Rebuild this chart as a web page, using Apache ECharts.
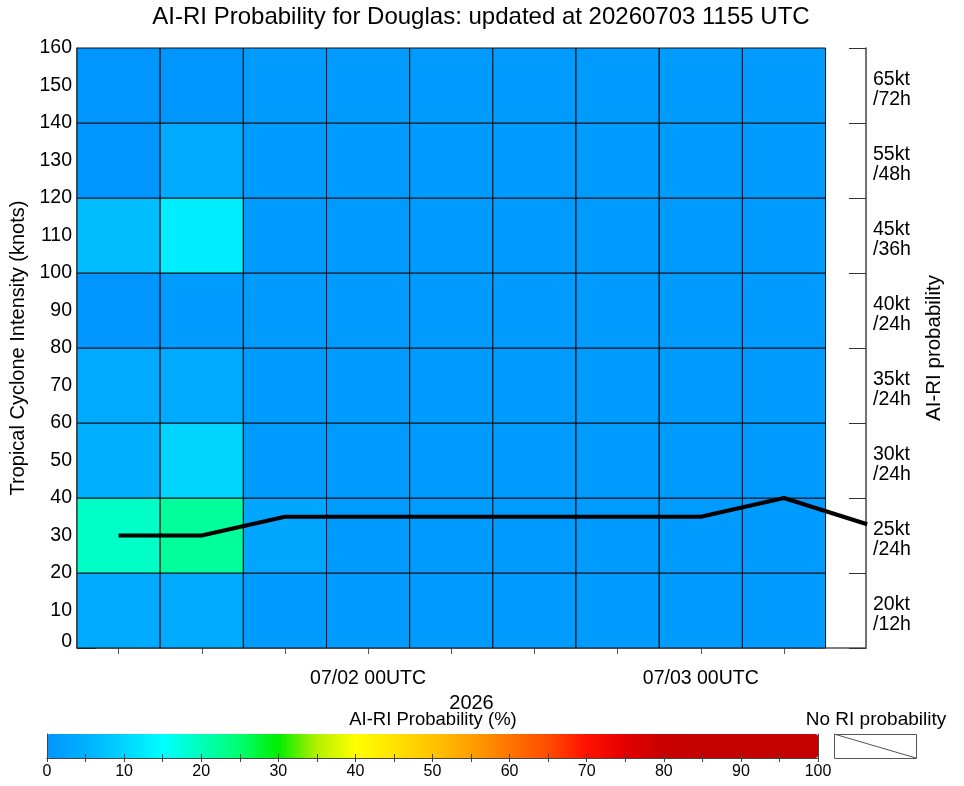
<!DOCTYPE html>
<html>
<head>
<meta charset="utf-8">
<script src="https://cdn.jsdelivr.net/npm/echarts@6/dist/echarts.min.js"></script>
<style>
html,body{margin:0;padding:0;background:#fff;}
#chart{width:964px;height:786px;}
</style>
</head>
<body>
<div id="chart"></div>
<script>
// ---- data (hours since 2026-07-01 00 UTC) ----
const cellCenterHours = [6, 12, 18, 24, 30, 36, 42, 48, 54];
const cellHalfWidthHours = 3;
const rowEdges = [0, 20, 40, 60, 80, 100, 120, 140, 160];
const riLabels = ['20kt\n/12h', '25kt\n/24h', '30kt\n/24h', '35kt\n/24h',
                  '40kt\n/24h', '45kt\n/36h', '55kt\n/48h', '65kt\n/72h'];
// probability (%) per RI row (bottom to top), per 6-hourly time
const prob20kt12h = [4, 4, 1, 1, 1, 1, 1, 1, 1];
const prob25kt24h = [19, 22, 3, 1, 1, 1, 1, 1, 1];
const prob30kt24h = [5, 10, 1, 1, 1, 1, 1, 1, 1];
const prob35kt24h = [4, 4, 1, 1, 1, 1, 1, 1, 1];
const prob40kt24h = [0, 1, 1, 1, 1, 1, 1, 1, 1];
const prob45kt36h = [7, 13, 1, 1, 1, 1, 1, 1, 1];
const prob55kt48h = [0, 4, 1, 1, 1, 1, 1, 1, 1];
const prob65kt72h = [0, 0, 1, 1, 1, 1, 1, 1, 1];
const probRows = [prob20kt12h, prob25kt24h, prob30kt24h, prob35kt24h,
                  prob40kt24h, prob45kt36h, prob55kt48h, prob65kt72h];
// intensity track
const trackHours = [6, 12, 18, 24, 30, 36, 42, 48, 54, 60];
const trackKnots = [30, 30, 35, 35, 35, 35, 35, 35, 40, 33];
// axis ticks / labels
const xTickHours = [6, 12, 18, 24, 30, 36, 42, 48, 54];
const xLabelHours = [24, 48];
const xLabelTexts = ['07/02 00UTC', '07/03 00UTC'];
const xMinHours = 3;
const xMaxHours = 59.917; // 07/03 11:55 UTC
// colour scale 0..100 % (every 5 %)
const cbColors = ['#0096ff', '#00b0ff', '#00d4ff', '#00ffff', '#00ffb8', '#00ff70',
                  '#00ee00', '#b4f000', '#ffff00', '#ffe200', '#ffc400', '#ffa000',
                  '#ff7400', '#ff4c00', '#ff1000', '#e40000', '#c80000', '#c40000',
                  '#c40000', '#c40000', '#c40000'];

// ---- build ----
const cells = [];
probRows.forEach((row, i) => {
  row.forEach((p, j) => {
    cells.push([cellCenterHours[j] - cellHalfWidthHours, cellCenterHours[j] + cellHalfWidthHours,
                rowEdges[i], rowEdges[i + 1], p]);
  });
});
// RI labels sit slightly below each row centre, as in the original
const riLabelValues = rowEdges.slice(0, -1).map((e, i) => (e + rowEdges[i + 1]) / 2 - 1.1);
const track = trackHours.map((h, i) => [h, trackKnots[i]]);

const FONT = 'Liberation Sans, Arial, Helvetica, sans-serif';
const chart = echarts.init(document.getElementById('chart'), null, {renderer: 'canvas'});
chart.setOption({
  animation: false,
  backgroundColor: '#ffffff',
  textStyle: {fontFamily: FONT, color: '#000'},
  title: [
    {text: 'AI-RI Probability for Douglas: updated at 20260703 1155 UTC', left: 481, top: 5, padding: 0,
     textAlign: 'center', textStyle: {fontFamily: FONT, fontSize: 24, fontWeight: 'normal', color: '#000'}},
    {text: 'AI-RI Probability (%)', left: 433, top: 710, padding: 0, textAlign: 'center',
     textStyle: {fontFamily: FONT, fontSize: 18.5, fontWeight: 'normal', color: '#000'}},
    {text: 'No RI probability', left: 876, top: 710, padding: 0, textAlign: 'center',
     textStyle: {fontFamily: FONT, fontSize: 19, fontWeight: 'normal', color: '#000'}}
  ],
  grid: [
    {left: 77, right: 98, top: 48, bottom: 138, outerBoundsMode: 'none'},
    {left: 47, top: 734, width: 771, height: 24, outerBoundsMode: 'none'}
  ],
  xAxis: [
    {type: 'value', gridIndex: 0, min: xMinHours, max: xMaxHours,
     name: '2026', nameLocation: 'middle', nameGap: 42,
     nameTextStyle: {fontFamily: FONT, fontSize: 20, color: '#000'},
     axisLine: {show: true, lineStyle: {color: '#555', width: 1.5}},
     axisTick: {show: true, inside: false, length: 6, customValues: xTickHours, lineStyle: {color: '#555'}},
     axisLabel: {show: true, customValues: xLabelHours, margin: 21, fontFamily: FONT, fontSize: 19.5, color: '#000',
       formatter: v => { const k = xLabelHours.indexOf(v); return k >= 0 ? xLabelTexts[k] : ''; }},
     splitLine: {show: false}},
    {type: 'value', gridIndex: 1, min: 0, max: 100, interval: 5, position: 'bottom', z: 10,
     axisLine: {show: true, lineStyle: {color: '#444', width: 1}},
     axisTick: {show: true, inside: true, length: 4, lineStyle: {color: '#444'}},
     axisLabel: {show: true, margin: 6, fontFamily: FONT, fontSize: 16, color: '#000',
       formatter: v => (v % 10 === 0 ? String(v) : '')},
     splitLine: {show: false}},
    {type: 'value', gridIndex: 1, min: 0, max: 100, interval: 5, position: 'top', z: 10,
     axisLine: {show: true, lineStyle: {color: '#444', width: 1}},
     axisTick: {show: true, inside: true, length: 4, lineStyle: {color: '#444'}},
     axisLabel: {show: false}, splitLine: {show: false}}
  ],
  yAxis: [
    {type: 'value', gridIndex: 0, min: 0, max: 160, interval: 10, position: 'left',
     name: 'Tropical Cyclone Intensity (knots)', nameLocation: 'middle', nameGap: 49, nameRotate: 90,
     nameTextStyle: {fontFamily: FONT, fontSize: 20, color: '#000'},
     axisLine: {show: true, lineStyle: {color: '#555', width: 1.5}},
     axisTick: {show: true, inside: true, length: 19, lineStyle: {color: '#333'}},
     axisLabel: {margin: 5, fontFamily: FONT, fontSize: 19.5, color: '#000',
       formatter: v => (v === 0 ? '{lo|0}' : String(v)),
       rich: {lo: {fontFamily: FONT, fontSize: 19.5, color: '#000', padding: [0, 0, 12, 0]}}},
     splitLine: {show: false}},
    {type: 'value', gridIndex: 0, min: 0, max: 160, interval: 20, position: 'right',
     name: 'AI-RI probability', nameLocation: 'middle', nameGap: 58, nameRotate: 90,
     nameTextStyle: {fontFamily: FONT, fontSize: 20.5, color: '#000'},
     axisLine: {show: true, lineStyle: {color: '#444', width: 1.5}},
     axisTick: {show: true, inside: true, length: 17, lineStyle: {color: '#333'}},
     axisLabel: {show: true, customValues: riLabelValues, margin: 7, fontFamily: FONT, fontSize: 19.5,
       lineHeight: 20, color: '#000', align: 'left',
       formatter: v => { const k = riLabelValues.indexOf(v); return k >= 0 ? riLabels[k] : ''; }},
     splitLine: {show: false}},
    {type: 'value', gridIndex: 1, min: 0, max: 1, position: 'left', z: 10,
     axisLine: {show: true, onZero: false, lineStyle: {color: '#444', width: 1}},
     axisTick: {show: false}, axisLabel: {show: false}, splitLine: {show: false}},
    {type: 'value', gridIndex: 1, min: 0, max: 1, position: 'right', z: 10,
     axisLine: {show: true, onZero: false, lineStyle: {color: '#444', width: 1}},
     axisTick: {show: false}, axisLabel: {show: false}, splitLine: {show: false}}
  ],
  visualMap: {
    type: 'continuous', min: 0, max: 100, dimension: 4, seriesIndex: 0,
    orient: 'horizontal', left: 47, top: 734, itemWidth: 24, itemHeight: 771,
    padding: 0, calculable: false, realtime: false, text: null, hoverLink: false,
    inRange: {color: cbColors}
  },
  graphic: [
    {type: 'rect', left: 834, top: 734, shape: {width: 82, height: 24},
     style: {fill: '#fff', stroke: '#555', lineWidth: 1}},
    {type: 'line', shape: {x1: 834, y1: 734, x2: 916, y2: 758}, style: {stroke: '#555', lineWidth: 1}}
  ],
  series: [
    {type: 'custom', xAxisIndex: 0, yAxisIndex: 0, data: cells, encode: {x: [0, 1], y: [2, 3]},
     renderItem: (params, api) => {
       const p0 = api.coord([api.value(0), api.value(3)]);
       const p1 = api.coord([api.value(1), api.value(2)]);
       return {type: 'rect',
         shape: {x: p0[0], y: p0[1], width: p1[0] - p0[0], height: p1[1] - p0[1]},
         style: {fill: api.visual('color'), stroke: '#111', lineWidth: 1}};
     }},
    {type: 'line', xAxisIndex: 0, yAxisIndex: 0, data: track, showSymbol: false, symbol: 'none',
     clip: true, z: 5, lineStyle: {color: '#000', width: 4}}
  ]
});
</script>
</body>
</html>
